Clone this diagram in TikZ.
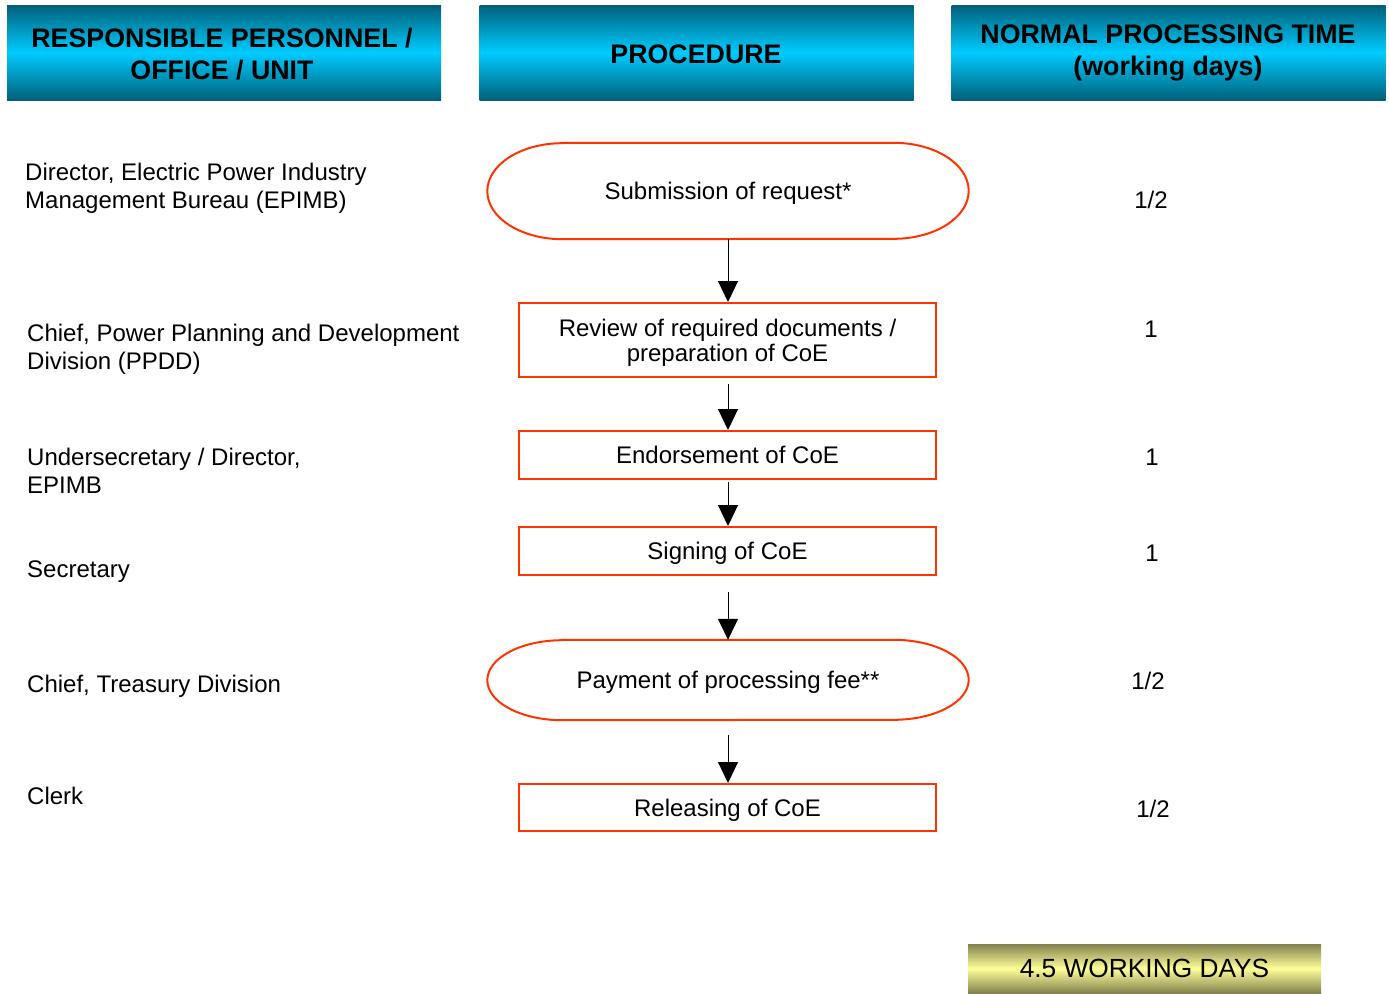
\documentclass[tikz,border=0pt]{standalone}
\usepackage{fontspec}
\setmainfont{Liberation Sans}
\usetikzlibrary{arrows.meta}
\definecolor{hdark}{RGB}{0,96,122}
\definecolor{hmid}{RGB}{0,204,255}
\definecolor{gdark}{RGB}{130,130,78}
\definecolor{gmid}{RGB}{255,255,153}
\definecolor{flowred}{RGB}{255,51,0}
\tikzset{
  header/.style={top color=hdark, bottom color=hdark, middle color=hmid,
    minimum width=434pt, minimum height=95pt, inner sep=0pt},
  headtext/.style={inner sep=0pt, align=center, text depth=0pt,
    font=\fontsize{26.8}{32}\selectfont\bfseries},
  total/.style={top color=gdark, bottom color=gdark, middle color=gmid,
    minimum width=353pt, minimum height=49pt, inner sep=0pt,
    text height=18.6pt, text depth=0pt,
    font=\fontsize{26.3}{30}\selectfont},
  procbox/.style={draw=flowred, line width=2pt, minimum width=417pt,
    inner sep=0pt, align=center, text height=17.2pt, text depth=0pt,
    font=\fontsize{24}{25}\selectfont},
  termbox/.style={minimum width=481pt, inner sep=0pt, align=center,
    text height=17.2pt, text depth=0pt,
    font=\fontsize{24}{25}\selectfont},
  termline/.style={draw=flowred, line width=2pt},
  who/.style={anchor=west, inner sep=0pt, align=left,
    text height=17.2pt, text depth=0pt,
    font=\fontsize{24}{28}\selectfont},
  days/.style={inner sep=0pt, text height=17.2pt, text depth=0pt,
    font=\fontsize{24}{28}\selectfont},
  flow/.style={draw=black, line width=1pt, -{Triangle[width=20pt,length=21pt]}}
}
\begin{document}
\begin{tikzpicture}[x=1pt,y=1pt]
\useasboundingbox (0,0) rectangle (1389,-993);
% headers
\node[header] (h1) at (224,-52.5) {};
\node[header] (h2) at (696.5,-52.5) {};
\node[header] (h3) at (1168.5,-52.5) {};
\node[headtext, text height=51.2pt] (h1t) at (222,-54) {RESPONSIBLE PERSONNEL /\\OFFICE / UNIT};
\node[headtext, text height=19.2pt] (h2t) at (696,-54) {PROCEDURE};
\node[headtext, text height=51.2pt] (h3t) at (1168,-50) {NORMAL PROCESSING TIME\\(working days)};
% procedure nodes
\node[termbox, minimum height=96pt] (s1) at (728,-191) {Submission of request*};
\draw[termline] ([xshift=75pt]s1.north west) -- ([xshift=-75pt]s1.north east)
  arc[start angle=90, end angle=-90, x radius=75pt, y radius=48pt]
  -- ([xshift=75pt]s1.south west)
  arc[start angle=270, end angle=90, x radius=75pt, y radius=48pt] -- cycle;
\node[procbox, minimum height=74pt, text height=42.2pt] (s2) at (727.5,-340) {Review of required documents /\\preparation of CoE};
\node[procbox, minimum height=48pt] (s3) at (727.5,-455) {Endorsement of CoE};
\node[procbox, minimum height=48pt] (s4) at (727.5,-551) {Signing of CoE};
\node[termbox, minimum height=80pt] (s5) at (728,-680) {Payment of processing fee**};
\draw[termline] ([xshift=75pt]s5.north west) -- ([xshift=-75pt]s5.north east)
  arc[start angle=90, end angle=-90, x radius=75pt, y radius=40pt]
  -- ([xshift=75pt]s5.south west)
  arc[start angle=270, end angle=90, x radius=75pt, y radius=40pt] -- cycle;
\node[procbox, minimum height=47pt] (s6) at (727.5,-807.5) {Releasing of CoE};
% connectors
\draw[flow] (s1.south -| 728,0) -- (s2.north -| 728,0);
\draw[flow, shorten <=6pt] (s2.south -| 728,0) -- (s3.north -| 728,0);
\draw[flow, shorten <=2pt] (s3.south -| 728,0) -- (s4.north -| 728,0);
\draw[flow, shorten <=16pt] (s4.south -| 728,0) -- (s5.north -| 728,0);
\draw[flow, shorten <=15pt] (s5.south -| 728,0) -- (s6.north -| 728,0);
% responsible personnel
\node[who, text height=45.2pt] (w1) at (25,-186) {Director, Electric Power Industry\\Management Bureau (EPIMB)};
\node[who, text height=45.2pt] (w2) at (27,-346.5) {Chief, Power Planning and Development\\Division (PPDD)};
\node[who, text height=45.2pt] (w3) at (27,-470.5) {Undersecretary / Director,\\EPIMB};
\node[who] (w4) at (27,-569) {Secretary};
\node[who] (w5) at (27,-684) {Chief, Treasury Division};
\node[who] (w6) at (27,-796) {Clerk};
% processing times
\node[days] (d1) at (1151,-200) {1/2};
\node[days] (d2) at (1151,-329) {1};
\node[days] (d3) at (1152,-457) {1};
\node[days] (d4) at (1152,-553) {1};
\node[days] (d5) at (1148,-681) {1/2};
\node[days] (d6) at (1153,-809) {1/2};
% total
\node[total] (tot) at (1144.5,-968.5) {4.5 WORKING DAYS};
\end{tikzpicture}
\end{document}
